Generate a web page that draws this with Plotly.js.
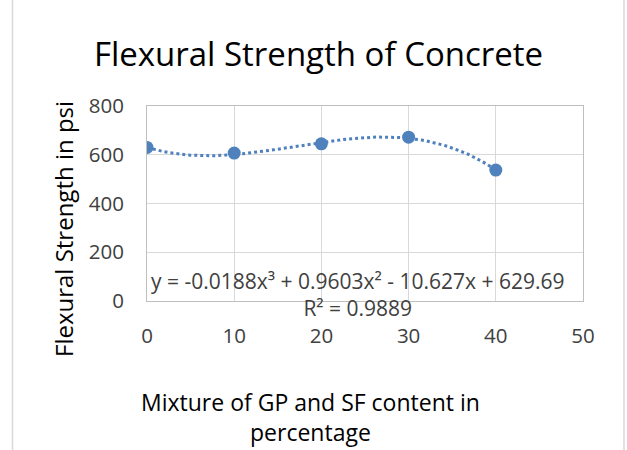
<!DOCTYPE html>
<html>
<head>
<meta charset="utf-8">
<script src="https://cdn.plot.ly/plotly-3.0.1.min.js"></script>
<style>
  html, body { margin: 0; padding: 0; background: #ffffff; }
  #chart { width: 627px; height: 450px; }
</style>
</head>
<body>
<div id="chart"></div>
<script>
// ---- data ----
const mixturePercent = [0, 10, 20, 30, 40];
const flexuralStrength = [630, 607, 645, 672, 537];
// trendline coefficients as printed on the chart (c0 + c1 x + c2 x^2 + c3 x^3)
const trendCoefficients = [629.69, -10.627, 0.9603, -0.0188];
const trendEquationText = "y = -0.0188x³ + 0.9603x² - 10.627x + 629.69";
const rSquaredText = "R² = 0.9889";
const xTickValues = [0, 10, 20, 30, 40, 50];
const yTickValues = [0, 200, 400, 600, 800];
const chartTitle = "Flexural Strength of Concrete";
const xAxisTitle = "Mixture of GP and SF content in<br>percentage";
const yAxisTitle = "Flexural Strength in psi";

// trendline evaluated from the printed polynomial over the data range
const xMin = Math.min(...mixturePercent), xMax = Math.max(...mixturePercent);
const trendX = [], trendY = [];
for (let i = 0; i <= 80; i++) {
  const x = xMin + (xMax - xMin) * i / 80;
  trendX.push(x);
  trendY.push(trendCoefficients.reduce((s, c, k) => s + c * Math.pow(x, k), 0));
}

const blue = '#4F81BD';
const FONT = 'Open Sans, sans-serif';

const traces = [
  {
    x: trendX, y: trendY, type: 'scatter', mode: 'lines',
    line: { color: blue, width: 3, dash: 'dot' },
    hoverinfo: 'skip', showlegend: false
  },
  {
    x: mixturePercent, y: flexuralStrength, type: 'scatter', mode: 'markers',
    marker: { color: blue, size: 13 },
    showlegend: false
  }
];

const layout = {
  width: 627, height: 450,
  margin: { l: 147, r: 44, t: 106, b: 149 },
  paper_bgcolor: '#ffffff', plot_bgcolor: '#ffffff',
  font: { family: FONT, color: '#404040' },
  title: {
    text: chartTitle,
    font: { family: FONT, size: 33, color: '#000000' },
    x: 0.508, xref: 'container', xanchor: 'center',
    y: 0.88, yref: 'container', yanchor: 'middle'
  },
  xaxis: {
    range: [0, 50], tickvals: xTickValues, ticktext: xTickValues.map(String),
    showgrid: true, gridcolor: '#D9D9D9', gridwidth: 1,
    showline: true, linecolor: '#BFBFBF', linewidth: 1, mirror: true,
    zeroline: false, ticks: '', ticklabelstandoff: 16,
    tickfont: { family: FONT, size: 20.5, color: '#404040' }
  },
  yaxis: {
    range: [0, 800], tickvals: yTickValues, ticktext: yTickValues.map(String),
    showgrid: true, gridcolor: '#D9D9D9', gridwidth: 1,
    showline: true, linecolor: '#BFBFBF', linewidth: 1, mirror: true,
    zeroline: false, ticks: '', ticklabelstandoff: 18,
    tickfont: { family: FONT, size: 20.5, color: '#404040' }
  },
  annotations: [
    {
      text: yAxisTitle, textangle: -90, showarrow: false,
      xref: 'paper', yref: 'paper', x: -0.19, y: 0.37,
      xanchor: 'center', yanchor: 'middle',
      font: { family: FONT, size: 24, color: '#000000' }
    },
    {
      text: xAxisTitle, showarrow: false, align: 'center',
      xref: 'paper', yref: 'paper', x: 0.376, y: -0.595,
      xanchor: 'center', yanchor: 'middle',
      font: { family: FONT, size: 23, color: '#000000' }
    },
    {
      text: trendEquationText + '<br>' + rSquaredText, showarrow: false, align: 'center',
      xref: 'paper', yref: 'paper', x: 0.485, y: 0.035,
      xanchor: 'center', yanchor: 'middle',
      font: { family: FONT, size: 21, color: '#404040' }
    }
  ],
  shapes: [
    { type: 'line', xref: 'paper', yref: 'paper', x0: -0.3085, x1: -0.3085, y0: -0.8, y1: 1.6,
      line: { color: '#D9D9D9', width: 1.5 } },
    { type: 'line', xref: 'paper', yref: 'paper', x0: 1.094, x1: 1.094, y0: -0.8, y1: 1.6,
      line: { color: '#D9D9D9', width: 1.5 } }
  ]
};

Plotly.newPlot('chart', traces, layout, { displayModeBar: false, staticPlot: true });
</script>
</body>
</html>
